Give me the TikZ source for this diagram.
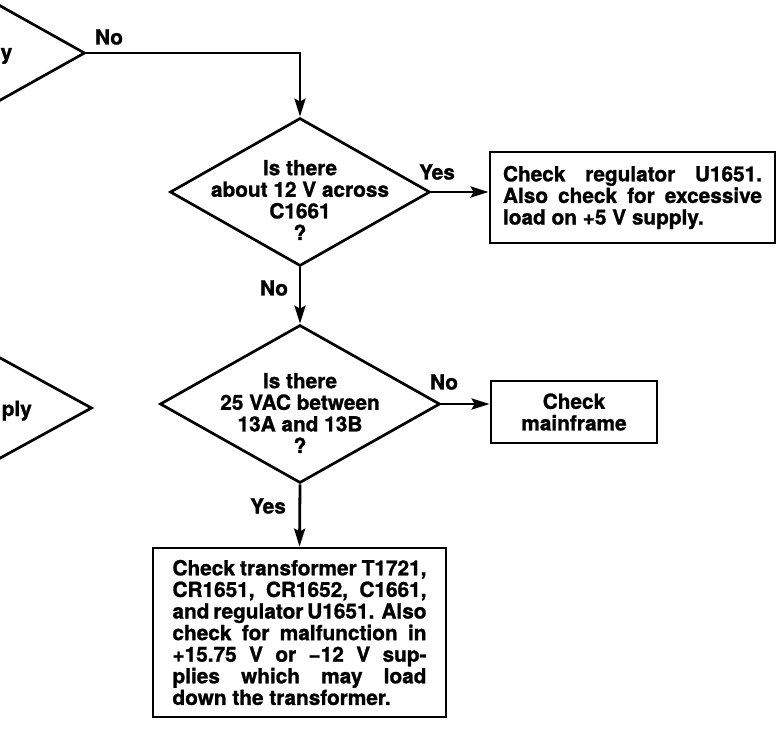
\documentclass[tikz,border=0pt]{standalone}
\usepackage{fontspec}
\setmainfont{TeX Gyre Heros}[BoldFeatures={FakeBold=1.2}]
\usetikzlibrary{shapes.geometric,arrows.meta}
\begin{document}
\begin{tikzpicture}[x=1pt,y=-1pt,
  every node/.style={font=\bfseries\fontsize{20.8}{21.6}\selectfont},
  dia/.style={diamond,draw,line width=2.7pt,inner sep=0pt},
  box/.style={rectangle,draw,line width=2.8pt,inner sep=0pt},
  arr/.style={line width=2.8pt,-{Stealth[length=18pt,width=11pt,inset=3pt]}},
  lbl/.style={inner sep=0pt}]
\useasboundingbox (0,0) rectangle (783,729);
\begin{scope}
\clip (0,0) rectangle (783,729);
\node[dia,minimum width=260pt,minimum height=146pt] (d0) at (-45,53) {};
\node[dia,minimum width=280pt,minimum height=154pt] (d3) at (-48,408) {};
\end{scope}
\node[lbl,anchor=west] (t0) at (0.5,56) {y};
\node[lbl,anchor=base east] (t3) at (32,416) {ply};

% decisions
\node[dia,minimum width=260pt,minimum height=148pt] (d1) at (300,192) {};
\node[lbl,align=center] (d1t) at (300,200) {Is there\\about 12 V across\\C1661\\?};
\node[dia,minimum width=280pt,minimum height=158pt] (d2) at (300,404) {};
\node[lbl,align=center] (d2t) at (300,413) {Is there\\25 VAC between\\13A and 13B\\?};

% boxes
\node[box,minimum width=285pt,minimum height=91pt,align=left] (b1) at (632.5,197.5)
  {\makebox[259pt][s]{Check regulator U1651.}\\
   \makebox[259pt][s]{Also check for excessive}\\
   load on +5 V supply.};
\node[box,minimum width=166pt,minimum height=62pt,align=center] (b2) at (574,412)
  {Check\\mainframe};
\node[box,minimum width=293pt,minimum height=169pt,align=left] (b3) at (299.5,632.5)
  {\makebox[254pt][s]{Check transformer T1721,}\\
   \makebox[254pt][s]{CR1651, CR1652, C1661,}\\
   \makebox[254pt][s]{and regulator U1651. Also}\\
   \makebox[254pt][s]{check for malfunction in}\\
   \makebox[254pt][s]{+15.75 V or −12 V sup-}\\
   \makebox[254pt][s]{plies which may load}\\
   down the transformer.};

% connectors
\draw[arr] (d0.east) -| (d1.north);
\draw[arr] (d1.east) -- (d1.east -| b1.west);
\draw[arr] (d1.south) -- (d2.north);
\draw[arr] (d2.east) -- (d2.east -| b2.west);
\draw[arr] (d2.south) -- (b3.north);

% labels
\node[lbl] (l0) at (109,37) {No};
\node[lbl] (l1) at (437,172) {Yes};
\node[lbl] (l2) at (274,288) {No};
\node[lbl] (l3) at (444,382) {No};
\node[lbl] (l4) at (268,506) {Yes};
\end{tikzpicture}
\end{document}
